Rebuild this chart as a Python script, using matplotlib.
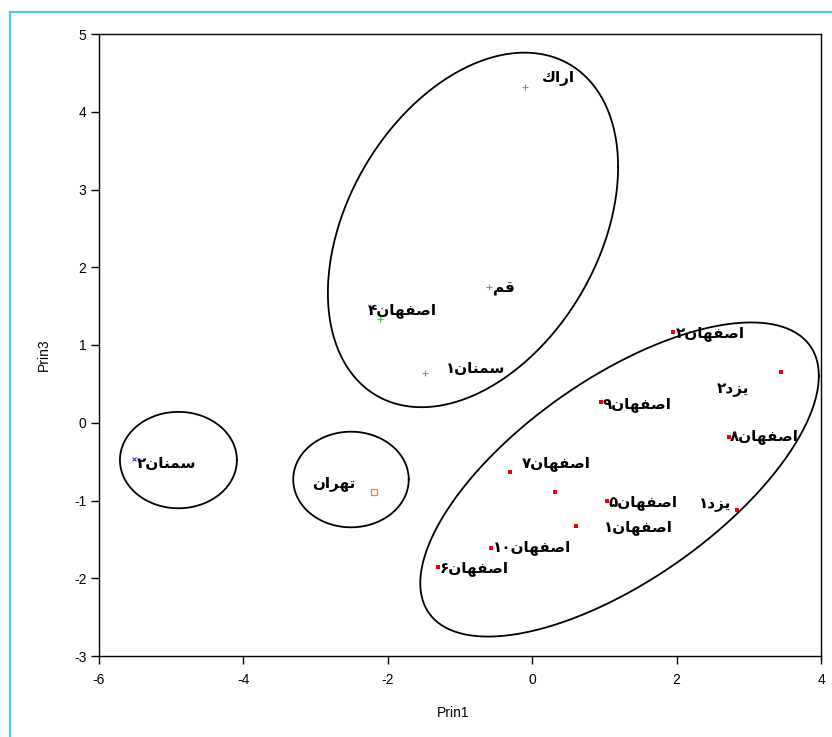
import numpy as np
import matplotlib
matplotlib.use('Agg')
import matplotlib.pyplot as plt
from matplotlib.lines import Line2D

# --- data ---
names = ['اراك', 'قم', 'اصفهان۴', 'سمنان۱', 'سمنان۲', 'تهران',
         'اصفهان۲', 'یزد۲', 'اصفهان۹', 'اصفهان۸', 'اصفهان۷', '',
         'اصفهان۵', 'یزد۱', 'اصفهان۱', 'اصفهان۱۰', 'اصفهان۶']
prin1 = [-0.10, -0.60, -2.11, -1.48, -5.52, -2.19,
         1.95, 3.45, 0.95, 2.73, -0.31, 0.32,
         1.03, 2.84, 0.61, -0.57, -1.30]
prin3 = [4.32, 1.75, 1.33, 0.64, -0.46, -0.89,
         1.17, 0.65, 0.27, -0.18, -0.63, -0.89,
         -1.01, -1.12, -1.33, -1.61, -1.85]
group = [0, 0, 0, 0, 1, 2, 3, 3, 3, 3, 3, 3, 3, 3, 3, 3, 3]
# where each label sits
label_x = [0.36, -0.39, -1.80, -0.79, -5.06, -2.75,
           2.46, 2.78, 1.45, 3.22, 0.33, 0.0,
           1.53, 2.53, 1.47, 0.00, -0.81]
label_y = [4.43, 1.73, 1.45, 0.70, -0.52, -0.78,
           1.15, 0.43, 0.24, -0.18, -0.53, 0.0,
           -1.02, -1.05, -1.35, -1.61, -1.87]

# cluster ellipses: centre, half extents, correlation
ell_cx = [-0.82, 1.21, -4.90, -2.51]
ell_cy = [2.48, -0.73, -0.48, -0.73]
ell_rx = [2.01, 2.76, 0.81, 0.80]
ell_ry = [2.28, 2.02, 0.62, 0.615]
ell_rho = [0.355, 0.66, 0.0, 0.0]

xticks = [-6, -4, -2, 0, 2, 4]
yticks = [-3, -2, -1, 0, 1, 2, 3, 4, 5]

# matplotlib has no arabic shaping, so pick the joined glyph forms by hand
FORMS = {
    'ا': '\uFE8D\uFE8E', 'د': '\uFEA9\uFEAA', 'ر': '\uFEAD\uFEAE',
    'ز': '\uFEAF\uFEB0',
    'ت': '\uFE95\uFE96\uFE97\uFE98', 'س': '\uFEB1\uFEB2\uFEB3\uFEB4',
    'ص': '\uFEB9\uFEBA\uFEBB\uFEBC', 'ف': '\uFED1\uFED2\uFED3\uFED4',
    'ق': '\uFED5\uFED6\uFED7\uFED8', 'ك': '\uFED9\uFEDA\uFEDB\uFEDC',
    'م': '\uFEE1\uFEE2\uFEE3\uFEE4', 'ن': '\uFEE5\uFEE6\uFEE7\uFEE8',
    'ه': '\uFEE9\uFEEA\uFEEB\uFEEC', 'ی': '\uFBFC\uFBFD\uFBFE\uFBFF',
}


def visual(word):
    letters = ''.join(c for c in word if c in FORMS)
    digits = ''.join(c for c in word if c not in FORMS)
    out = []
    for i, ch in enumerate(letters):
        p = letters[i - 1] if i > 0 else ''
        n = letters[i + 1] if i < len(letters) - 1 else ''
        jp = p in FORMS and len(FORMS[p]) == 4
        jn = len(FORMS[ch]) == 4 and n in FORMS
        idx = {(False, False): 0, (True, False): 1,
               (False, True): 2, (True, True): 3}[(jp, jn)]
        out.append(FORMS[ch][idx])
    return digits + ''.join(reversed(out))


styles = {
    0: dict(marker='+', color='#22dd22', ms=4, mew=0.8, ls='none'),
    1: dict(marker='x', color='#3333ff', ms=3, mew=0.8, ls='none'),
    2: dict(marker='s', mfc='none', mec='#ff7f00', ms=4.5, mew=0.9, ls='none'),
    3: dict(marker='s', color='#ee0000', ms=3, mew=0, ls='none'),
}

plt.rcParams['font.family'] = ['Liberation Sans', 'DejaVu Sans']
plt.rcParams['axes.unicode_minus'] = False

fig = plt.figure(figsize=(8.32, 7.37), dpi=100)
ax = fig.add_axes([99 / 832, 81 / 737, 722 / 832, 622 / 737])

x = np.array(prin1)
y = np.array(prin3)
g = np.array(group)
for k, st in styles.items():
    ax.plot(x[g == k], y[g == k], **st)

for nm, lx, ly in zip(names, label_x, label_y):
    if nm:
        ax.text(lx, ly, visual(nm), ha='center', va='center',
                fontsize=11, fontweight='bold', family='DejaVu Sans')

t = np.linspace(0, 2 * np.pi, 400)
for cx, cy, rx, ry, r in zip(ell_cx, ell_cy, ell_rx, ell_ry, ell_rho):
    ex = cx + rx * np.cos(t)
    ey = cy + ry * (r * np.cos(t) + np.sqrt(1 - r * r) * np.sin(t))
    ax.plot(ex, ey, color='black', lw=1.3)

ax.set_xlim(-6, 4)
ax.set_ylim(-3, 5)
ax.set_xticks(xticks)
ax.set_yticks(yticks)
ax.tick_params(direction='out', length=6, width=1, labelsize=10, pad=3)
ax.tick_params(axis='x', pad=6)
for s in ax.spines.values():
    s.set_linewidth(1)

fig.text(453 / 832, 1 - 713 / 737, 'Prin1', ha='center', va='center', fontsize=10)
fig.text(44 / 832, 1 - 355 / 737, 'Prin3', ha='center', va='center',
         fontsize=10, rotation=90)

# light blue frame round the picture
fig.add_artist(Line2D([9.5 / 832, 9.5 / 832], [-0.1, 1 - 12 / 737],
                      color='#55c8ef', lw=1.6))
fig.add_artist(Line2D([9.5 / 832, 1.1], [1 - 12 / 737, 1 - 12 / 737],
                      color='#55c8ef', lw=1.6))

fig.savefig('out.png', dpi=100)
